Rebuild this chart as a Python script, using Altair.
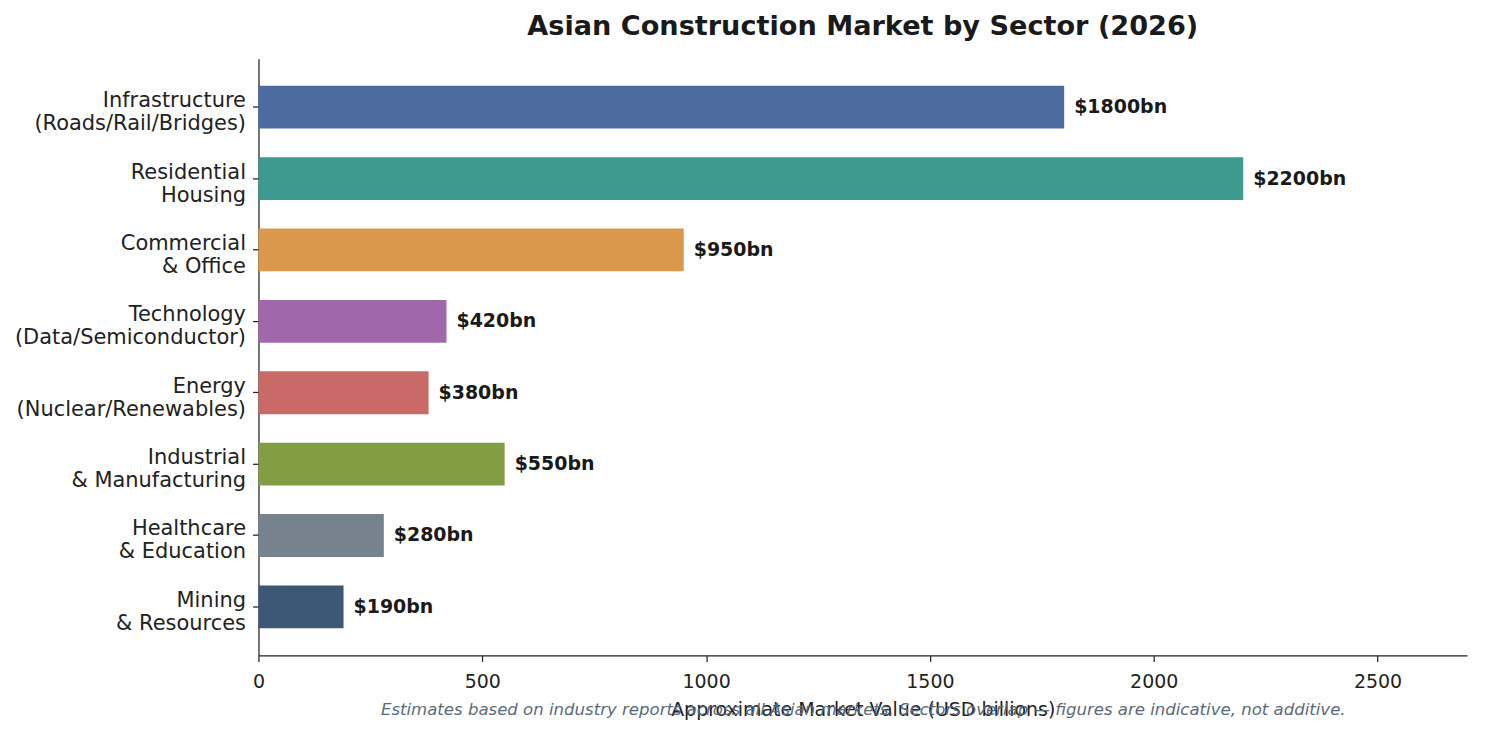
import altair as alt
import pandas as pd

sectors = [
    "Infrastructure\n(Roads/Rail/Bridges)",
    "Residential\nHousing",
    "Commercial\n& Office",
    "Technology\n(Data/Semiconductor)",
    "Energy\n(Nuclear/Renewables)",
    "Industrial\n& Manufacturing",
    "Healthcare\n& Education",
    "Mining\n& Resources",
]
values = [1800, 2200, 950, 420, 380, 550, 280, 190]
colors = ["#4C6B9F", "#3C9A8F", "#DA984D", "#A067AA", "#C96A68", "#829E45", "#76838F", "#3D5874"]
x_ticks = [0, 500, 1000, 1500, 2000, 2500]

title = "Asian Construction Market by Sector (2026)"
x_title = "Approximate Market Value (USD billions)"
footnote = "Estimates based on industry reports across all Asian markets. Sectors overlap — figures are indicative, not additive."

df = pd.DataFrame({"sector": sectors, "value": values})
df["label"] = ["$" + str(v) + "bn" for v in values]

FONT = "DejaVu Sans"

y_enc = alt.Y(
    "sector:N",
    sort=sectors,
    scale=alt.Scale(paddingInner=0.4, paddingOuter=0.38),
    axis=alt.Axis(
        title=None,
        labelExpr="split(datum.label, '\\n')",
        labelFontSize=21,
        labelLineHeight=23,
        labelOffset=-6,
        labelColor="#222222",
        labelPadding=7,
        tickSize=6,
        tickColor="#222222",
        tickWidth=1.25,
        domainColor="#222222",
        domainWidth=1.25,
        labelFont=FONT,
        labelLimit=400,
    ),
)
x_enc = alt.X(
    "value:Q",
    scale=alt.Scale(domain=[0, 2700], nice=False),
    axis=alt.Axis(
        title=x_title,
        values=x_ticks,
        format="d",
        grid=False,
        labelFlush=False,
        labelFontSize=19,
        labelColor="#222222",
        labelPadding=11,
        tickSize=6,
        tickColor="#222222",
        tickWidth=1.25,
        domainColor="#222222",
        domainWidth=1.25,
        titleFontSize=19,
        titleFontWeight="normal",
        titleColor="#222222",
        titlePadding=9,
        labelFont=FONT,
        titleFont=FONT,
    ),
)

bars = alt.Chart(df).mark_bar().encode(
    y=y_enc,
    x=x_enc,
    color=alt.Color("sector:N", scale=alt.Scale(domain=sectors, range=colors), legend=None),
)

labels = alt.Chart(df).mark_text(
    align="left", baseline="middle", dx=10, fontSize=19, fontWeight="bold", color="#1a1a1a", font=FONT
).encode(
    y=alt.Y("sector:N", sort=sectors),
    x="value:Q",
    text="label:N",
)

note = alt.Chart(pd.DataFrame({"t": [footnote]})).mark_text(
    align="center", baseline="middle", fontSize=16.6, fontStyle="italic", color="#5a6a7a", font=FONT
).encode(
    text="t:N",
    x=alt.value(606),
    y=alt.value(653),
)

chart = (
    alt.layer(bars, labels, note)
    .properties(
        width=1211,
        height=598,
        title=alt.TitleParams(
            title, fontSize=27.2, fontWeight="bold", color="#1a1a1a", font=FONT, anchor="middle", offset=17
        ),
        autosize=alt.AutoSizeParams(type="none"),
        padding={"left": 251, "top": 50, "right": 10, "bottom": 70},
    )
    .configure_view(stroke=None)
)

chart.save("out.html", embed_options={"renderer": "svg", "actions": False})
